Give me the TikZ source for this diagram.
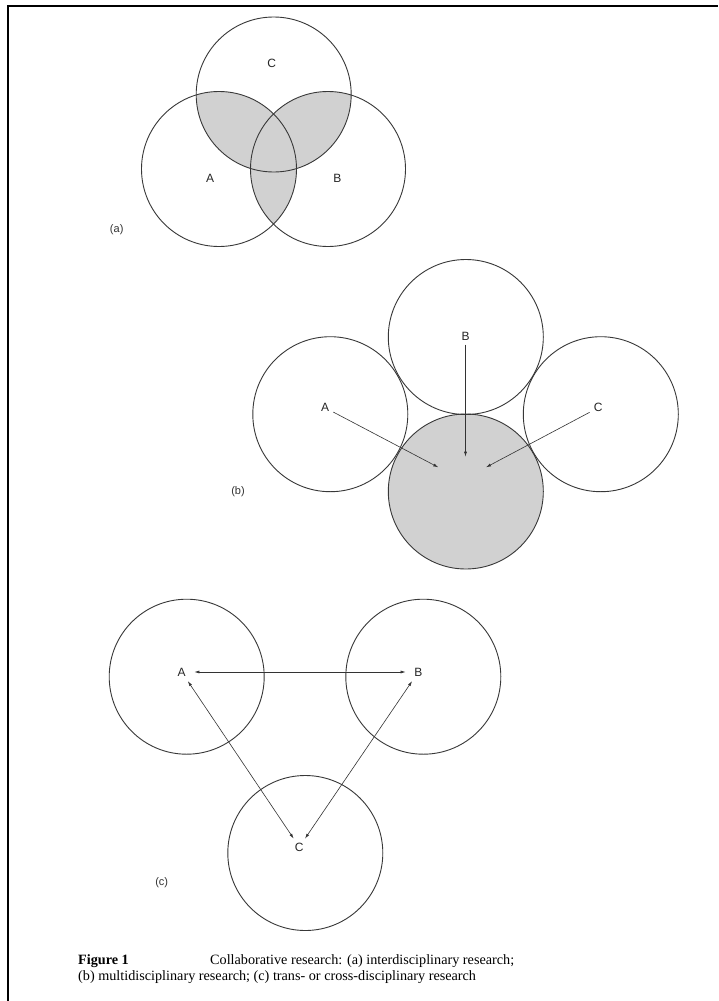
\documentclass[tikz,border=0pt]{standalone}
\usepackage{fontspec}
\setmainfont{Liberation Serif}
\newfontfamily\labelfont{Liberation Sans}
\usetikzlibrary{arrows.meta}
\begin{document}
\begin{tikzpicture}[x=1pt,y=-1pt,
  ring/.style={circle, draw=black!78, line width=0.9pt, minimum size=155pt, inner sep=0pt},
  grayring/.style={ring, fill=black!18},
  lbl/.style={font=\labelfont\fontsize{12}{14}\selectfont, inner sep=1.5pt, text=black!85},
  tagl/.style={font=\labelfont\fontsize{11}{13}\selectfont, inner sep=0pt, text=black!80},
  captext/.style={font=\fontsize{14.2}{17}\selectfont, inner sep=0pt, anchor=base west},
  arr/.style={draw=black!80, line width=0.6pt, -{Latex[length=5pt,width=3pt]}},
  darr/.style={draw=black!80, line width=0.6pt, {Latex[length=5pt,width=3pt]}-{Latex[length=5pt,width=3pt]}},
  shadefill/.style={fill=black!18}]
\useasboundingbox (0,0) rectangle (718,1001);
\fill[white] (0,0) rectangle (718,1001);
% frame
\draw[line width=2pt, black] (7.7,1001) -- (7.7,5.7) -- (718,5.7);

% ---------- (a) ----------
\coordinate (pa) at (219,169);
\coordinate (pb) at (328,169);
\coordinate (pc) at (273.7,94.5);
\begin{scope}
  \clip (pa) circle[radius=77.5pt];
  \fill[shadefill] (pc) circle[radius=77.5pt];
  \fill[shadefill] (pb) circle[radius=77.5pt];
\end{scope}
\begin{scope}
  \clip (pb) circle[radius=77.5pt];
  \fill[shadefill] (pc) circle[radius=77.5pt];
\end{scope}
\node[ring] (aA) at (pa) {};
\node[ring] (aB) at (pb) {};
\node[ring] (aC) at (pc) {};
\node[lbl] (laA) at (210,178) {A};
\node[lbl] (laB) at (337.3,178) {B};
\node[lbl] (laC) at (271.7,63.3) {C};
\node[tagl] (tagA) at (116.7,230) {(a)};

% ---------- (b) ----------
\node[grayring] (bG) at (465.8,491.5) {};
\node[ring] (bA) at (330.3,414.2) {};
\node[ring] (bB) at (465.8,337) {};
\node[ring] (bC) at (600.8,414.2) {};
\node[lbl] (lbA) at (325,407.7) {A};
\node[lbl] (lbB) at (465.5,336.7) {B};
\node[lbl] (lbC) at (598.3,407.7) {C};
\node[tagl] (tagB) at (238,492) {(b)};
\coordinate (tA) at (438.3,467.3);
\coordinate (tB) at (465.5,456.7);
\coordinate (tC) at (486,467.3);
\draw[arr, shorten <=3pt] (lbA) -- (tA);
\draw[arr, shorten <=2pt] (lbB) -- (tB);
\draw[arr, shorten <=3pt] (lbC) -- (tC);

% ---------- (c) ----------
\node[ring] (cA) at (186.7,676.7) {};
\node[ring] (cB) at (423.3,676.7) {};
\node[ring] (cC) at (305.3,853) {};
\node[lbl] (lcA) at (181.7,672) {A};
\node[lbl] (lcB) at (418.3,672) {B};
\node[lbl] (lcC) at (299.3,847) {C};
\node[tagl] (tagC) at (161.7,882.7) {(c)};
\draw[darr, shorten <=7pt, shorten >=7pt] (lcA) -- (lcB);
\draw[darr, shorten <=4pt, shorten >=3pt] (lcA) -- (lcC);
\draw[darr, shorten <=4pt, shorten >=3pt] (lcB) -- (lcC);

% ---------- caption ----------
\node[captext] (fig) at (78,964) {\textbf{Figure 1}};
\node[captext] (cap1) at (210,964) {Collaborative research: (a) interdisciplinary research;};
\node[captext] (cap2) at (78,980) {(b) multidisciplinary research; (c) trans- or cross-disciplinary research};
\end{tikzpicture}
\end{document}
